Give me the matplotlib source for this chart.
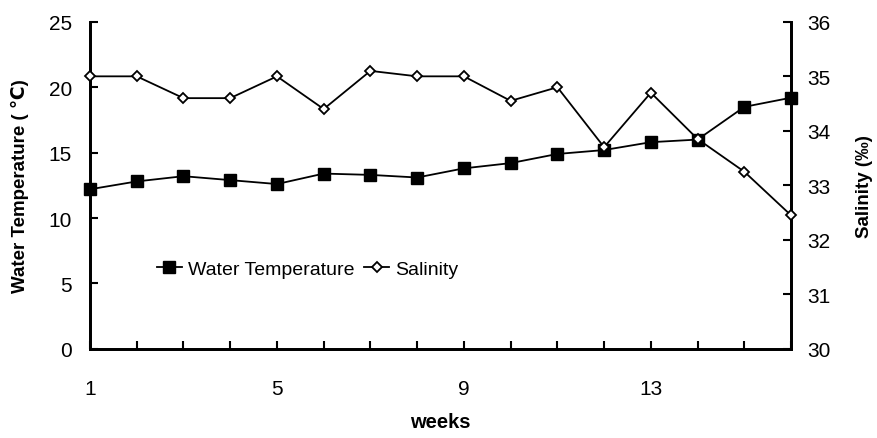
import numpy as np
import matplotlib
matplotlib.use("Agg")
import matplotlib.pyplot as plt

plt.rcParams["font.family"] = ["Liberation Sans", "DejaVu Sans"]

# データ
weeks = np.arange(1, 17)
water_temp = [12.2, 12.8, 13.2, 12.9, 12.6, 13.4, 13.3, 13.1,
              13.8, 14.2, 14.9, 15.2, 15.8, 16.0, 18.5, 19.2]
salinity = [35.0, 35.0, 34.6, 34.6, 35.0, 34.4, 35.1, 35.0,
            35.0, 34.55, 34.8, 33.7, 34.7, 33.85, 33.25, 32.45]
week_labels = ["1", "", "", "", "5", "", "", "", "9", "", "", "", "13", "", "", ""]

fig = plt.figure(figsize=[8.78, 4.39], dpi=100)
ax1 = fig.add_axes([0.1025, 0.203, 0.7985, 0.745])

ax1.plot(weeks, water_temp, color="black", lw=1.3, marker="s", ms=8,
         label="Water Temperature", clip_on=False, zorder=3)
ax1.set_xlim(1, 16)
ax1.set_ylim(0, 25)
ax1.set_yticks([0, 5, 10, 15, 20, 25])
ax1.set_xticks(weeks)
ax1.set_xticklabels(week_labels)
ax1.set_xlabel("weeks", fontsize=14.5, fontweight="bold", labelpad=10)
ax1.set_ylabel("Water Temperature ( \u2103)", fontsize=13.5, fontweight="bold", labelpad=14)
ax1.tick_params(axis="both", direction="in", length=6, width=1.5, labelsize=15)
ax1.tick_params(axis="x", pad=22)
ax1.tick_params(axis="y", pad=13)

ax2 = ax1.twinx()
ax2.plot(weeks, salinity, color="black", lw=1.3, marker="D", ms=5,
         markerfacecolor="white", markeredgewidth=1.3, label="Salinity",
         clip_on=False, zorder=3)
ax2.set_ylim(30, 36)
ax2.set_yticks([30, 31, 32, 33, 34, 35, 36])
ax2.set_ylabel("Salinity (\u2030)", fontsize=13.5, fontweight="bold", labelpad=18)
ax2.tick_params(axis="y", direction="in", length=6, width=1.5, labelsize=15, pad=12)

for ax in (ax1, ax2):
    ax.spines["top"].set_visible(False)
    for s in ("left", "right", "bottom"):
        ax.spines[s].set_linewidth(2)

# 凡例
h1, l1 = ax1.get_legend_handles_labels()
h2, l2 = ax2.get_legend_handles_labels()
ax2.legend(h1 + h2, l1 + l2, loc="center", bbox_to_anchor=(0.31, 0.245),
           ncol=2, frameon=False, fontsize=14, handlelength=1.3,
           handletextpad=0.3, columnspacing=0.5)

plt.savefig("out.png", dpi=100)
